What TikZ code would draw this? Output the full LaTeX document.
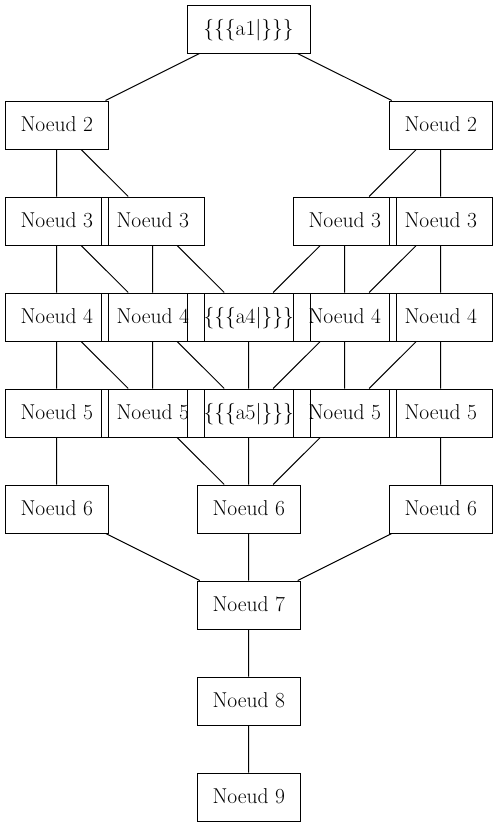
\documentclass[tikz,border=0pt]{standalone}
\begin{document}
\begin{tikzpicture}[x=1pt,y=-1pt,
  box/.style={draw=black,line width=1pt,minimum width=103pt,minimum height=48pt,inner sep=0pt,
    text height=15pt,text depth=3pt,font=\fontsize{21.5}{25}\selectfont},
  wbox/.style={box,minimum width=123pt},
  link/.style={draw=black,line width=1pt}]
\useasboundingbox (0,0) rectangle (497,827);
% row 1
\node[wbox] (a1) at (248.5,29) {\{\{\{a1|\}\}\}};
% row 2
\node[box] (n2a) at (56.7,125) {Noeud 2};
\node[box] (n2b) at (440.7,125) {Noeud 2};
% row 3
\node[box] (n3a) at (56.7,221) {Noeud 3};
\node[box] (n3b) at (152.7,221) {Noeud 3};
\node[box] (n3c) at (344.7,221) {Noeud 3};
\node[box] (n3d) at (440.7,221) {Noeud 3};
% row 4
\node[box] (n4a) at (56.7,317) {Noeud 4};
\node[box] (n4b) at (152.7,317) {Noeud 4};
\node[wbox] (a4) at (248.7,317) {\{\{\{a4|\}\}\}};
\node[box] (n4c) at (344.7,317) {Noeud 4};
\node[box] (n4d) at (440.7,317) {Noeud 4};
% row 5
\node[box] (n5a) at (56.7,413) {Noeud 5};
\node[box] (n5b) at (152.7,413) {Noeud 5};
\node[wbox] (a5) at (248.7,413) {\{\{\{a5|\}\}\}};
\node[box] (n5c) at (344.7,413) {Noeud 5};
\node[box] (n5d) at (440.7,413) {Noeud 5};
% row 6
\node[box] (n6a) at (56.7,509) {Noeud 6};
\node[box] (n6b) at (248.7,509) {Noeud 6};
\node[box] (n6c) at (440.7,509) {Noeud 6};
% rows 7-9
\node[box] (n7) at (248.7,605) {Noeud 7};
\node[box] (n8) at (248.7,701) {Noeud 8};
\node[box] (n9) at (248.7,797) {Noeud 9};
% links
\path[link] (a1) -- (n2a) (a1) -- (n2b);
\path[link] (n2a) -- (n3a) (n2a) -- (n3b) (n2b) -- (n3c) (n2b) -- (n3d);
\path[link] (n3a) -- (n4a) (n3a) -- (n4b) (n3b) -- (n4b) (n3b) -- (a4)
  (n3c) -- (a4) (n3c) -- (n4c) (n3d) -- (n4c) (n3d) -- (n4d);
\path[link] (n4a) -- (n5a) (n4a) -- (n5b) (n4b) -- (n5b) (n4b) -- (a5) (a4) -- (a5)
  (n4c) -- (a5) (n4c) -- (n5c) (n4d) -- (n5c) (n4d) -- (n5d);
\path[link] (n5a) -- (n6a) (n5b) -- (n6b) (a5) -- (n6b) (n5c) -- (n6b) (n5d) -- (n6c);
\path[link] (n6a) -- (n7) (n6b) -- (n7) (n6c) -- (n7) (n7) -- (n8) (n8) -- (n9);
\end{tikzpicture}
\end{document}
